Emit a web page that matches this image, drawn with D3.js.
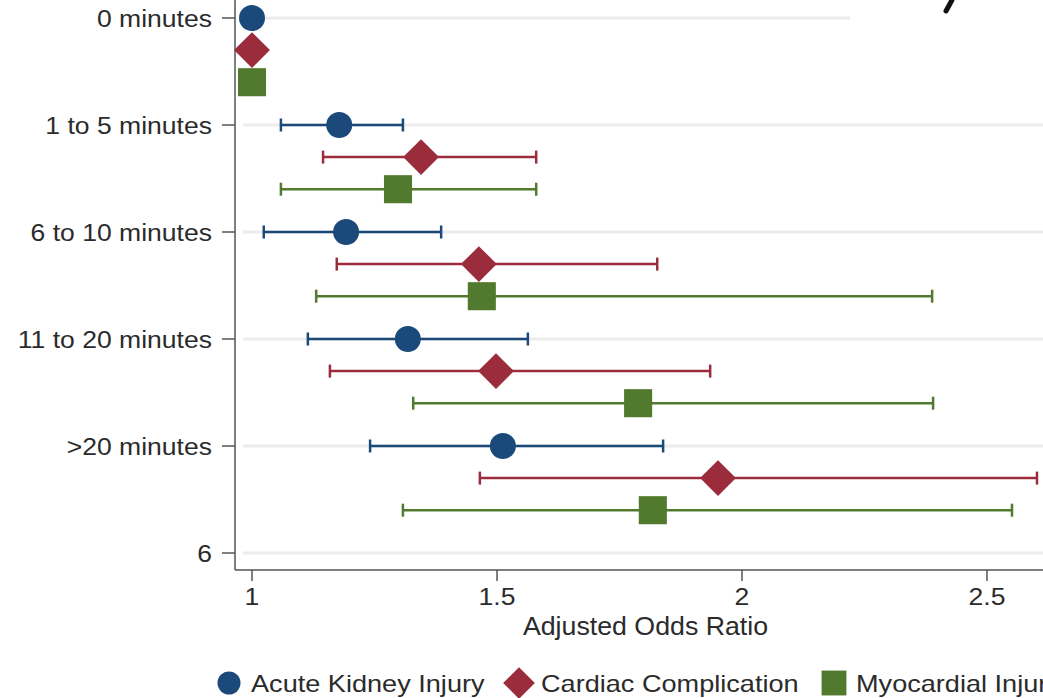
<!DOCTYPE html>
<html>
<head>
  <meta charset="utf-8">
  <script src="https://d3js.org/d3.v7.min.js"></script>
  <style>
    body { margin: 0; background: #fff; }
    svg { display: block; }
    .lbl { font-family: "Liberation Sans", Arial, Helvetica, sans-serif; fill: #2b2b2b; }
  </style>
</head>
<body>
  <svg id="chart" width="1043" height="698"></svg>
  <script>
    // categorias do eixo y (o "6" final vem do Stata)
    const categories = ["0 minutes", "1 to 5 minutes", "6 to 10 minutes", "11 to 20 minutes", ">20 minutes"];
    const extraTick = "6";
    const xTicks = [1, 1.5, 2, 2.5];

    const seriesNames = ["Acute Kidney Injury", "Cardiac Complication", "Myocardial Injury"];

    // odds ratios ajustados e IC 95% (referência = 0 minutes, sem IC)
    const akiOR = [1, 1.178, 1.192, 1.318, 1.512];
    const akiLo = [null, 1.059, 1.024, 1.114, 1.241];
    const akiHi = [null, 1.308, 1.386, 1.563, 1.839];

    const cardOR = [1, 1.345, 1.463, 1.498, 1.951];
    const cardLo = [null, 1.145, 1.173, 1.159, 1.465];
    const cardHi = [null, 1.580, 1.827, 1.935, 2.602];

    const myoOR = [1, 1.298, 1.469, 1.788, 1.818];
    const myoLo = [null, 1.059, 1.131, 1.329, 1.308];
    const myoHi = [null, 1.580, 2.388, 2.390, 2.551];

    const colors = ["#1b4a7a", "#9b2c3b", "#527a2e"];
    const shapes = ["circle", "diamond", "square"];

    const svg = d3.select("#chart");
    const sx = 1.13; // a fonte do original parece esticada na horizontal

    const x = d3.scaleLinear().domain([1, 2.5]).range([252, 987]);
    const y = d3.scaleLinear().domain([0, 5]).range([18, 553]);
    const rowOffset = [0, 0.3, 0.6];
    const axisLeft = 235, axisBottom = 570, right = 1043;

    function txt(g, str, px, py, size, anchor, stretch) {
      return g.append("text")
        .attr("class", "lbl")
        .attr("transform", `translate(${px},${py}) scale(${stretch || sx},1)`)
        .attr("text-anchor", anchor)
        .style("font-size", size + "px")
        .text(str);
    }

    // linhas de grade suaves
    const gridVals = d3.range(categories.length + 1);
    svg.append("g").selectAll("line").data(gridVals).join("line")
      .attr("x1", axisLeft + 8).attr("x2", d => d === 0 ? 850 : right)
      .attr("y1", d => y(d)).attr("y2", d => y(d))
      .attr("stroke", "#ececec").attr("stroke-width", 3);

    // eixos
    svg.append("line").attr("x1", axisLeft).attr("x2", axisLeft).attr("y1", 0).attr("y2", axisBottom)
      .attr("stroke", "#555").attr("stroke-width", 1.5);
    svg.append("line").attr("x1", axisLeft).attr("x2", right).attr("y1", axisBottom).attr("y2", axisBottom)
      .attr("stroke", "#555").attr("stroke-width", 1.5);

    const yLabels = categories.concat([extraTick]);
    const gy = svg.append("g");
    yLabels.forEach((lab, i) => {
      gy.append("line").attr("x1", axisLeft - 13).attr("x2", axisLeft)
        .attr("y1", y(i)).attr("y2", y(i)).attr("stroke", "#555").attr("stroke-width", 1.5);
      txt(gy, lab, axisLeft - 23, y(i) + 8.5, 23.5, "end");
    });

    const gx = svg.append("g");
    xTicks.forEach(t => {
      gx.append("line").attr("x1", x(t)).attr("x2", x(t))
        .attr("y1", axisBottom).attr("y2", axisBottom + 11).attr("stroke", "#555").attr("stroke-width", 1.5);
      txt(gx, d3.format("")(t), x(t), 605, 23.5, "middle");
    });
    txt(svg, "Adjusted Odds Ratio", (x(1.5) + x(2)) / 2 + 26, 635, 25, "middle", 1.07);

    // símbolos
    function marker(g, shape, cx, cy, color, s) {
      if (shape === "circle") {
        g.append("circle").attr("cx", cx).attr("cy", cy).attr("r", s).attr("fill", color);
      } else if (shape === "diamond") {
        const h = s * 1.38;
        g.append("path").attr("d", `M${cx},${cy - h}L${cx + h},${cy}L${cx},${cy + h}L${cx - h},${cy}Z`).attr("fill", color);
      } else {
        const h = s * 1.08;
        g.append("rect").attr("x", cx - h).attr("y", cy - h).attr("width", 2 * h).attr("height", 2 * h).attr("fill", color);
      }
    }

    const series = [
      { or: akiOR, lo: akiLo, hi: akiHi },
      { or: cardOR, lo: cardLo, hi: cardHi },
      { or: myoOR, lo: myoLo, hi: myoHi }
    ];

    series.forEach((s, k) => {
      const g = svg.append("g");
      s.or.forEach((v, i) => {
        const cy = y(i + rowOffset[k]);
        if (s.lo[i] != null) {
          g.append("line").attr("x1", x(s.lo[i])).attr("x2", x(s.hi[i]))
            .attr("y1", cy).attr("y2", cy).attr("stroke", colors[k]).attr("stroke-width", 2.5);
          [s.lo[i], s.hi[i]].forEach(e => {
            g.append("line").attr("x1", x(e)).attr("x2", x(e))
              .attr("y1", cy - 6.5).attr("y2", cy + 6.5).attr("stroke", colors[k]).attr("stroke-width", 2.5);
          });
        }
        marker(g, shapes[k], x(v), cy, colors[k], 13);
      });
    });

    // legenda
    const legX = [229, 519, 834];
    const gl = svg.append("g");
    seriesNames.forEach((n, k) => {
      marker(gl, shapes[k], legX[k], 683, colors[k], 11.5);
      txt(gl, n, legX[k] + 22, 692, 24, "start");
    });

    // rabisco preto do canto superior (recorte do original)
    svg.append("path").attr("d", "M952,0 L946,11").attr("stroke", "#111")
      .attr("stroke-width", 5).attr("stroke-linecap", "round");
  </script>
</body>
</html>
